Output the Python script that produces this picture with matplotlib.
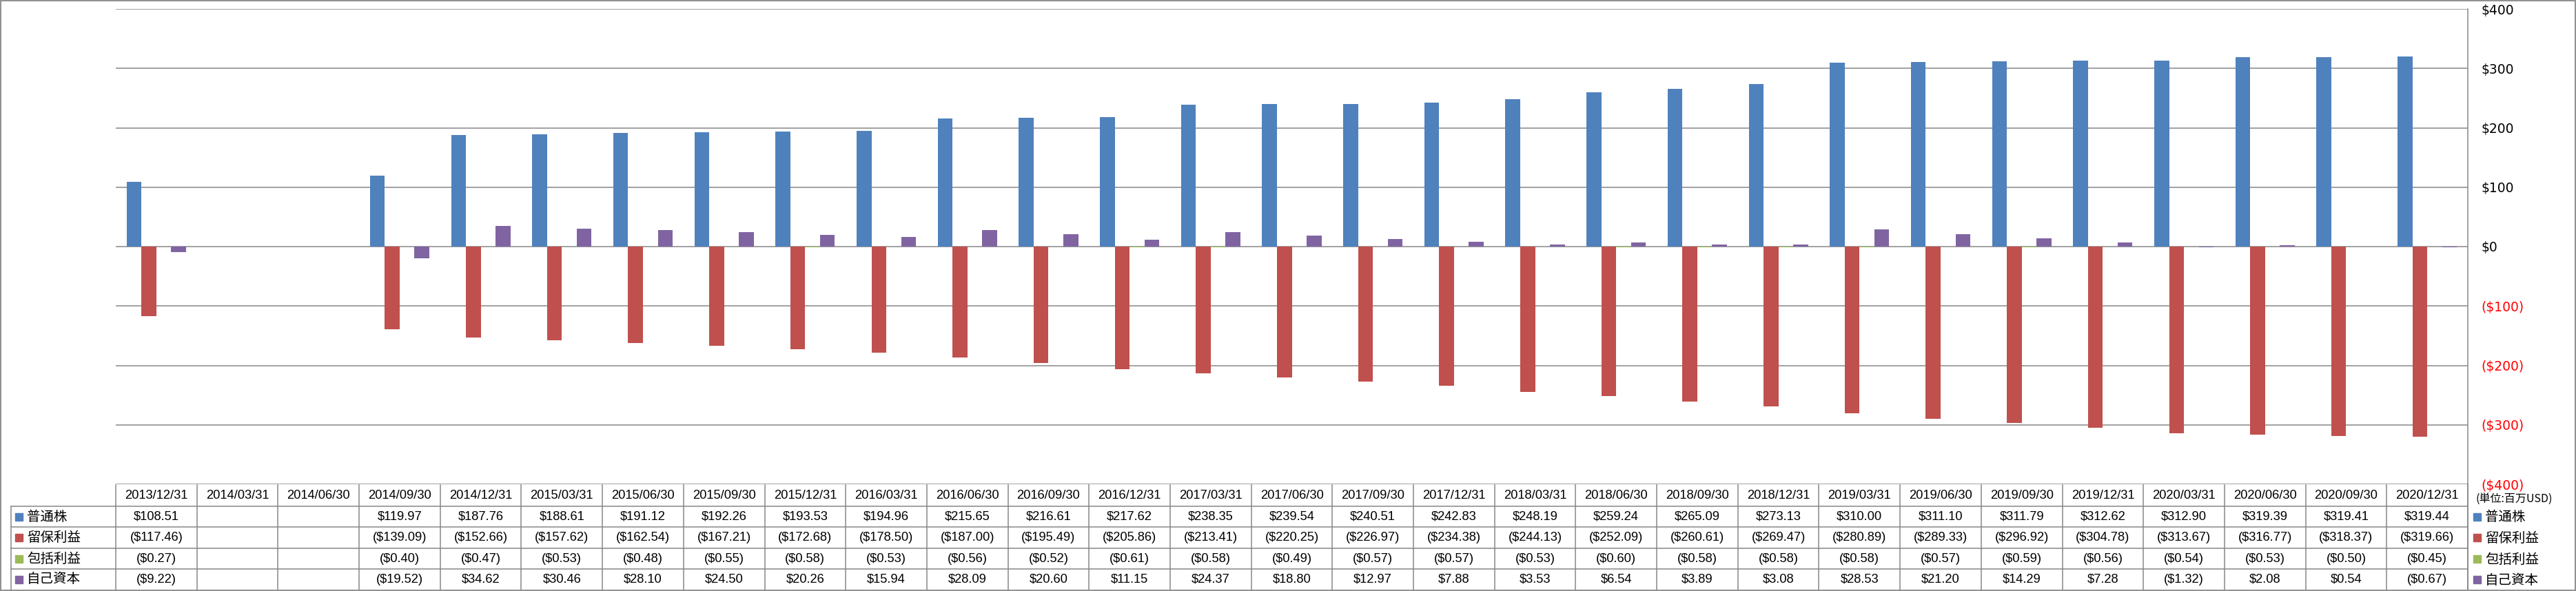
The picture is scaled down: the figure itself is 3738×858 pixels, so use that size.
import numpy as np
import matplotlib
matplotlib.use('Agg')
import matplotlib.pyplot as plt
from matplotlib.patches import Rectangle
from matplotlib.transforms import blended_transform_factory

plt.rcParams['font.family'] = ['Liberation Sans', 'Noto Sans CJK JP', 'DejaVu Sans']

dates = ['2013/12/31', '2014/03/31', '2014/06/30', '2014/09/30', '2014/12/31',
         '2015/03/31', '2015/06/30', '2015/09/30', '2015/12/31',
         '2016/03/31', '2016/06/30', '2016/09/30', '2016/12/31',
         '2017/03/31', '2017/06/30', '2017/09/30', '2017/12/31',
         '2018/03/31', '2018/06/30', '2018/09/30', '2018/12/31',
         '2019/03/31', '2019/06/30', '2019/09/30', '2019/12/31',
         '2020/03/31', '2020/06/30', '2020/09/30', '2020/12/31']
nan = np.nan
common = [108.51, nan, nan, 119.97, 187.76, 188.61, 191.12, 192.26, 193.53, 194.96,
          215.65, 216.61, 217.62, 238.35, 239.54, 240.51, 242.83, 248.19, 259.24,
          265.09, 273.13, 310.00, 311.10, 311.79, 312.62, 312.90, 319.39, 319.41, 319.44]
retained = [-117.46, nan, nan, -139.09, -152.66, -157.62, -162.54, -167.21, -172.68,
            -178.50, -187.00, -195.49, -205.86, -213.41, -220.25, -226.97, -234.38,
            -244.13, -252.09, -260.61, -269.47, -280.89, -289.33, -296.92, -304.78,
            -313.67, -316.77, -318.37, -319.66]
comprehensive = [-0.27, nan, nan, -0.40, -0.47, -0.53, -0.48, -0.55, -0.58, -0.53,
                 -0.56, -0.52, -0.61, -0.58, -0.49, -0.57, -0.57, -0.53, -0.60,
                 -0.58, -0.58, -0.58, -0.57, -0.59, -0.56, -0.54, -0.53, -0.50, -0.45]
treasury = [-9.22, nan, nan, -19.52, 34.62, 30.46, 28.10, 24.50, 20.26, 15.94,
            28.09, 20.60, 11.15, 24.37, 18.80, 12.97, 7.88, 3.53, 6.54, 3.89, 3.08,
            28.53, 21.20, 14.29, 7.28, -1.32, 2.08, 0.54, -0.67]
series_names = ['普通株', '留保利益', '包括利益', '自己資本']
series = [common, retained, comprehensive, treasury]
colors = ['#4F81BD', '#C0504D', '#9BBB59', '#8064A2']
yticks = [400, 300, 200, 100, 0, -100, -200, -300, -400]

W, H = 3738, 858
fig = plt.figure(figsize=(W / 100, H / 100), dpi=100)
grid_c = '#878787'

# pixel-space overlay for the table and frame
ov = fig.add_axes([0, 0, 1, 1])
ov.set_xlim(0, W)
ov.set_ylim(H, 0)
ov.axis('off')

left, right, top, bottom = 168, 3581, 13, 703
ax = fig.add_axes([left / W, (H - bottom) / H, (right - left) / W, (bottom - top) / H])
ax.patch.set_alpha(0)

n = len(dates)
x = np.arange(n)
bw = 0.183
for k, (vals, c) in enumerate(zip(series, colors)):
    ax.bar(x + (k - 1.5) * bw, vals, width=bw, color=c, zorder=3)

ax.set_xlim(-0.5, n - 0.5)
ax.set_ylim(-400, 400)
ax.set_yticks(yticks)
for y in yticks:
    ax.axhline(y, color=grid_c, lw=1.1, zorder=2)
ax.set_xticks([])
for s in ['left', 'top', 'bottom']:
    ax.spines[s].set_visible(False)
ax.spines['right'].set_color(grid_c)
ax.spines['right'].set_linewidth(1.1)
ax.yaxis.tick_right()
ax.tick_params(axis='y', length=0, pad=14, labelsize=13.5)


def money(v, dec=True):
    if np.isnan(v):
        return ''
    s = f'${abs(v):,.2f}' if dec else f'${abs(v):,.0f}'
    return f'({s})' if v < 0 else s


ax.set_yticklabels([money(v, dec=False) for v in yticks], family='DejaVu Sans')
for lab, v in zip(ax.get_yticklabels(), yticks):
    lab.set_color('red' if v < 0 else 'black')

# right spine continues down through the table
ov.plot([right, right], [bottom, 856], color=grid_c, lw=1.1)

# data table
tr = blended_transform_factory(ax.transData, ov.transData)
hdr_top, hdr_bot = 704, 735
row_lines = [735, 765, 796, 826, 856]
for i in range(n + 1):
    ov.plot([i - 0.5, i - 0.5], [hdr_top, 856], color=grid_c, lw=1.1, transform=tr)
ov.plot([16, 16], [hdr_bot, 856], color=grid_c, lw=1.1)
for y in row_lines[:-1]:
    ov.plot([16, right], [y, y], color=grid_c, lw=1.1)
for i, d in enumerate(dates):
    ov.text(i, (hdr_top + hdr_bot) / 2, d, ha='center', va='center',
            fontsize=13.2, transform=tr)
for r, (name, vals, c) in enumerate(zip(series_names, series, colors)):
    yc = (row_lines[r] + row_lines[r + 1]) / 2
    ov.add_patch(Rectangle((22, yc - 5.5), 11, 11, color=c))
    ov.text(39, yc, name, ha='left', va='center', fontsize=14,
            family=['Noto Sans CJK JP', 'DejaVu Sans'])
    for i, v in enumerate(vals):
        ov.text(i, yc, money(v), ha='center', va='center', fontsize=13.2, transform=tr)
    # legend at the right
    ov.add_patch(Rectangle((3589, yc - 5.5), 11, 11, color=c))
    ov.text(3606, yc + 1, name, ha='left', va='center', fontsize=14,
            family=['Noto Sans CJK JP', 'DejaVu Sans'])

ov.text(3593, 725, '(単位:百万USD)', ha='left', va='center', fontsize=11.5,
        family=['Noto Sans CJK JP', 'DejaVu Sans'])

# outer frame
ov.add_patch(Rectangle((0.5, 0.5), W - 1.5, H - 1.5, fill=False, ec=grid_c, lw=1.3))

fig.savefig('out.png', dpi=100)
